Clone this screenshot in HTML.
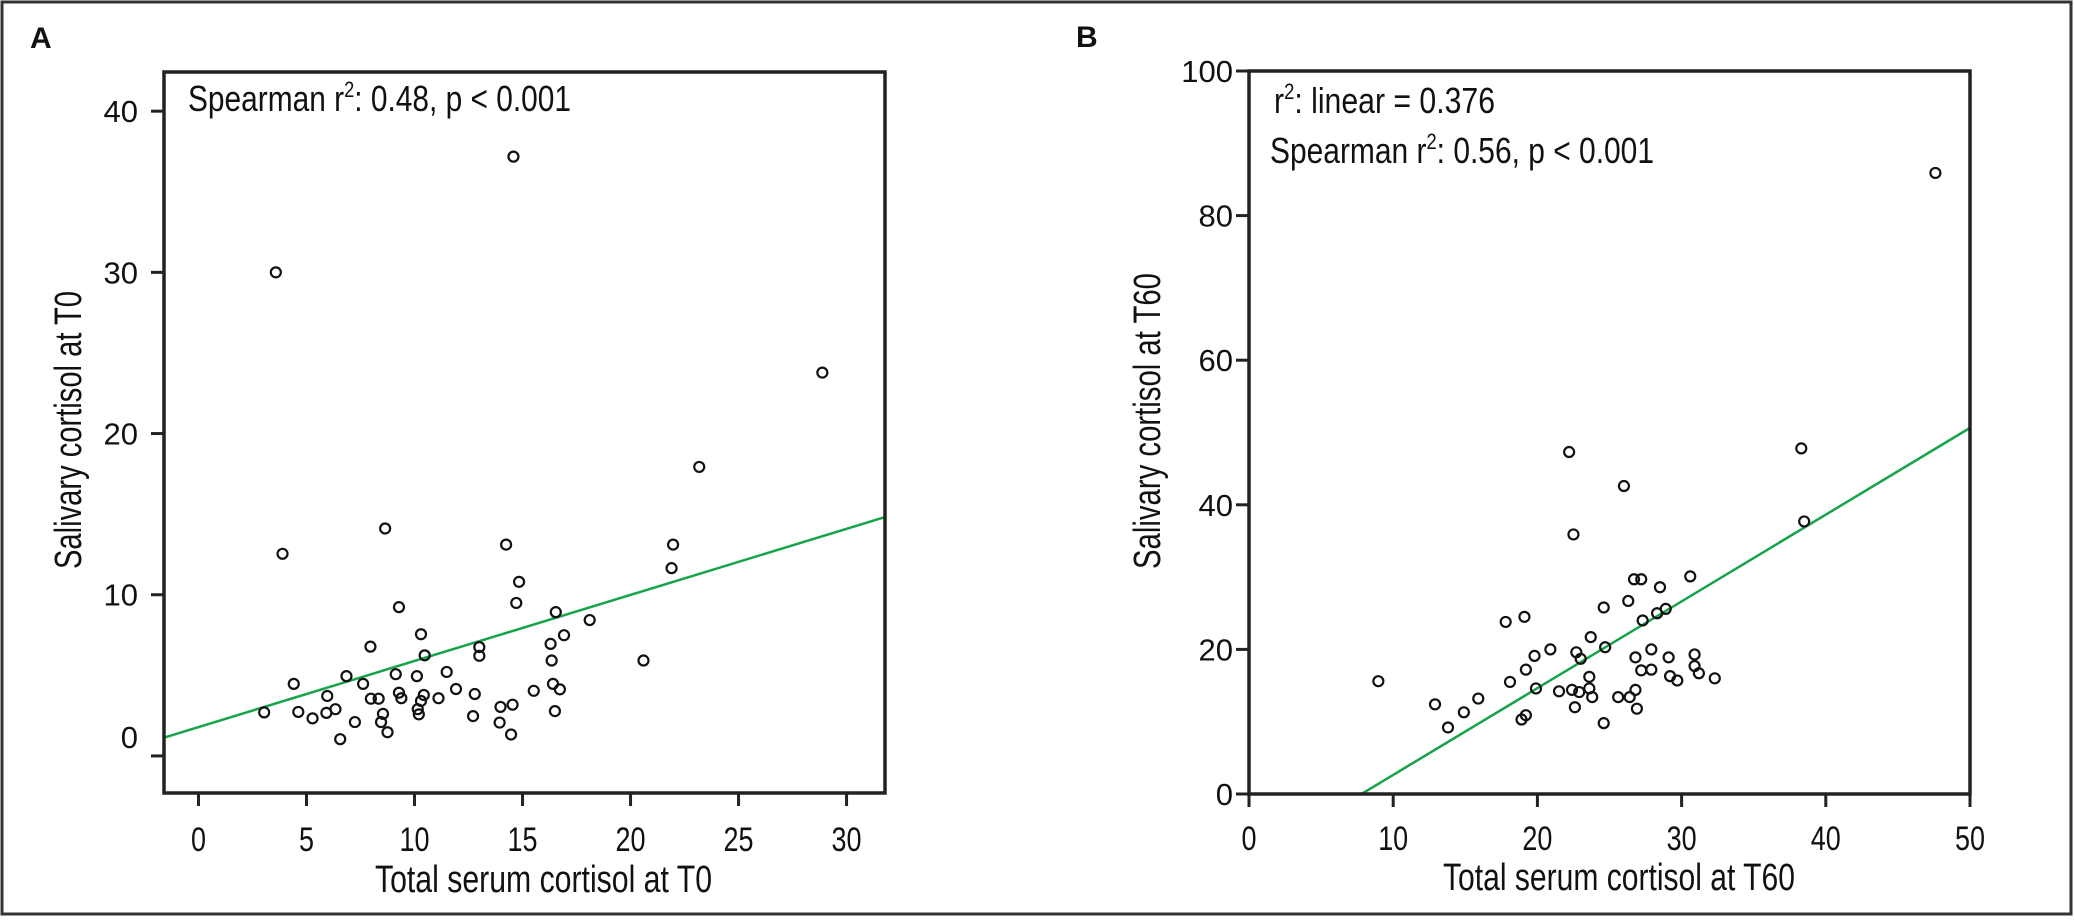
<!DOCTYPE html>
<html><head><meta charset="utf-8"><style>
html,body{margin:0;padding:0;background:#fff}
svg{display:block}
text{font-family:"Liberation Sans",sans-serif;fill:#111}
</style></head><body>
<svg id="fig" width="2074" height="922" viewBox="0 0 2074 922">
<rect x="2" y="2" width="2069" height="912" fill="none" stroke="#333" stroke-width="3"/>
<text x="30" y="48" font-size="30" font-weight="bold">A</text>
<text x="1076" y="47" font-size="30" font-weight="bold">B</text>
<g id="pa"></g>
<g id="pb"></g>
</svg>
<script>
const NS="http://www.w3.org/2000/svg";
// Panel A data
const aX=[14.58,3.58,28.88,23.18,3.89,8.64,14.24,21.97,21.90,14.84,14.71,9.28,16.54,18.11,10.30,16.92,7.96,13.00,13.00,10.47,16.30,16.35,20.60,4.41,6.85,7.62,9.13,10.11,11.49,5.96,7.98,8.34,9.28,9.39,10.43,10.30,11.11,11.92,12.79,15.52,16.41,16.73,3.04,4.62,5.28,5.92,6.34,7.24,8.54,8.45,8.75,6.56,10.15,10.20,12.71,13.98,14.54,13.94,14.47,16.50];
const aY=[37.18,30.0,23.78,17.93,12.54,14.11,13.11,13.11,11.65,10.80,9.49,9.23,8.92,8.43,7.55,7.49,6.78,6.75,6.21,6.24,6.95,5.92,5.92,4.47,4.95,4.47,5.07,4.95,5.21,3.72,3.55,3.55,3.92,3.58,3.78,3.41,3.58,4.15,3.84,4.04,4.47,4.13,2.70,2.73,2.33,2.67,2.90,2.10,2.61,2.10,1.47,1.04,2.90,2.58,2.47,3.04,3.18,2.07,1.33,2.78];
const aXTicks=[0,5,10,15,20,25,30];
const aYTicks=[0,10,20,30,40];
const aFit=[0.41,1.79]; // slope, intercept
// Panel B data
const bX=[8.97,12.9,13.8,14.9,15.9,17.8,18.1,18.9,19.2,19.1,19.2,19.8,19.9,20.9,21.5,22.2,22.5,22.4,22.6,22.7,22.9,23.0,23.6,23.6,23.8,23.7,24.6,24.6,24.7,25.6,26.0,26.3,26.4,26.7,26.8,26.8,26.9,27.2,27.2,27.3,27.9,27.9,28.3,28.5,28.9,29.1,29.2,29.7,30.6,30.9,30.9,31.2,32.3,38.3,38.5,47.6];
const bY=[15.6,12.4,9.2,11.3,13.2,23.8,15.5,10.3,10.9,24.5,17.2,19.1,14.6,20.0,14.2,47.3,35.9,14.4,12.0,19.6,14.1,18.7,16.2,14.6,13.4,21.7,9.8,25.8,20.3,13.4,42.6,26.7,13.4,29.7,14.4,18.9,11.8,29.7,17.1,24.0,17.2,20.0,25.0,28.6,25.6,18.9,16.3,15.7,30.1,19.3,17.7,16.7,16.0,47.8,37.7,85.9];
const bXTicks=[0,10,20,30,40,50];
const bYTicks=[0,20,40,60,80,100];
const bFit=[1.2,-9.36];

function mk(p,tag,at){const e=document.createElementNS(NS,tag);for(const k in at)e.setAttribute(k,at[k]);p.appendChild(e);return e;}

function panel(g,cfg){
  const L=cfg.box[0],T=cfg.box[1],R=cfg.box[2],B=cfg.box[3];
  const sx=v=>L+(v-cfg.xd[0])/(cfg.xd[1]-cfg.xd[0])*(R-L);
  const sy=v=>B-(v-cfg.yd[0])/(cfg.yd[1]-cfg.yd[0])*(B-T);
  const clip=mk(g,"clipPath",{id:cfg.id+"-clip"});
  mk(clip,"rect",{x:L,y:T,width:R-L,height:B-T});
  const x0=cfg.lineX[0],x1=cfg.lineX[1];
  const ln=mk(g,"line",{x1:sx(x0),y1:sy(cfg.fit[0]*x0+cfg.fit[1]),x2:sx(x1),y2:sy(cfg.fit[0]*x1+cfg.fit[1]),stroke:"#16a34a","stroke-width":2.5,"clip-path":"url(#"+cfg.id+"-clip)"});
  
  
  cfg.xs.forEach((xv,i)=>{
    const c=mk(g,"circle",{cx:sx(xv),cy:sy(cfg.ys[i]),r:5,fill:"none",stroke:"#111","stroke-width":2.2});
    
    
  });
  const bx=mk(g,"rect",{x:L,y:T,width:R-L,height:B-T,fill:"none",stroke:"#222","stroke-width":3.5});
  
  
  cfg.xt.forEach(v=>{
    const t=mk(g,"line",{x1:sx(v),x2:sx(v),y1:B,y2:B+13,stroke:"#222","stroke-width":3});
    
    
    const s=String(v);
    const tx=mk(g,"text",{x:sx(v),y:cfg.xtY,"font-size":34,"text-anchor":"middle",textLength:s.length*15,lengthAdjust:"spacingAndGlyphs"});
    tx.textContent=s;
    
    
  });
  cfg.yt.forEach(v=>{
    const t=mk(g,"line",{x1:L-13,x2:L,y1:sy(v),y2:sy(v),stroke:"#222","stroke-width":3});
    
    
    const off=(cfg.zeroUp&&v===0)?-19:0;
    const tx=mk(g,"text",{x:cfg.ytX,y:sy(v)+11+off,"font-size":31,"text-anchor":"end"});
    tx.textContent=String(v);
    
    
  });
  const xt=mk(g,"text",{x:cfg.xTitle[0],y:cfg.xTitle[1],"font-size":38,textLength:cfg.xTitle[2],lengthAdjust:"spacingAndGlyphs"});
  xt.textContent=cfg.xLabel;
  
  
  const yt=mk(g,"text",{x:0,y:0,"font-size":38,"text-anchor":"middle",textLength:cfg.yTitle[2],lengthAdjust:"spacingAndGlyphs",transform:"translate("+cfg.yTitle[0]+","+cfg.yTitle[1]+") rotate(-90)"});
  yt.textContent=cfg.yLabel;
  
  
  cfg.notes.forEach(n=>{
    const t=mk(g,"text",{x:n[0],y:n[1],"font-size":36,textLength:n[2],lengthAdjust:"spacingAndGlyphs"});
    t.innerHTML=n[3];
    
    
  });
}
panel(document.getElementById("pa"),{id:"a",box:[164,72,885,793],xd:[-1.597,31.78],yd:[-2.30,42.43],
  xs:aX,ys:aY,xt:aXTicks,yt:aYTicks,fit:aFit,lineX:[-1.597,31.78],xtY:851,ytX:138,zeroUp:true,
  xTitle:[375,892,337],yTitle:[81,430,278],xLabel:"Total serum cortisol at T0",yLabel:"Salivary cortisol at T0",
  notes:[[188,111,383,'Spearman r<tspan font-size="22" dy="-14">2</tspan><tspan dy="14">: 0.48, p &lt; 0.001</tspan>']]});
panel(document.getElementById("pb"),{id:"b",box:[1249,71,1970,794],xd:[0,50],yd:[0,100],
  xs:bX,ys:bY,xt:bXTicks,yt:bYTicks,fit:bFit,lineX:[7.8,50],xtY:850,ytX:1233,zeroUp:false,
  xTitle:[1443,890,352],yTitle:[1160,421,296],xLabel:"Total serum cortisol at T60",yLabel:"Salivary cortisol at T60",
  notes:[[1274,113,221,'r<tspan font-size="22" dy="-14">2</tspan><tspan dy="14">: linear = 0.376</tspan>'],
         [1270,163,384,'Spearman r<tspan font-size="22" dy="-14">2</tspan><tspan dy="14">: 0.56, p &lt; 0.001</tspan>']]});
</script>
</body></html>
